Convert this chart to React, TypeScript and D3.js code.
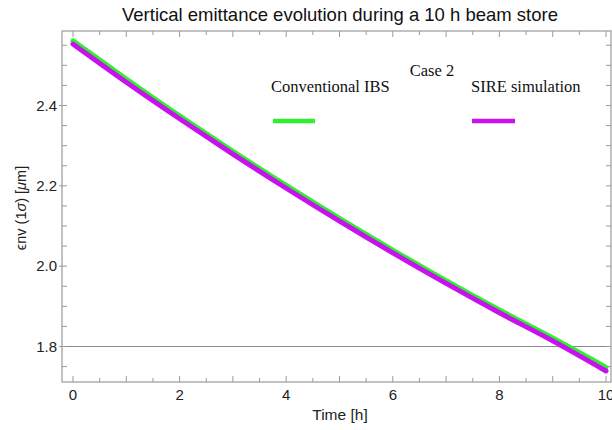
import React from "react";
import * as d3 from "d3";

const times = [0, 1, 2, 3, 4, 5, 6, 7, 8, 9, 10];
const conventionalIBS = [2.561, 2.466, 2.374, 2.286, 2.201, 2.119, 2.040, 1.964, 1.891, 1.821, 1.748];
const sireSimulation = [2.553, 2.458, 2.367, 2.279, 2.194, 2.112, 2.033, 1.957, 1.884, 1.814, 1.739];
const xTickLabels = [0, 2, 4, 6, 8, 10];
const yTickLabels = [1.8, 2.0, 2.2, 2.4];
const seriesNames = ["Conventional IBS", "SIRE simulation"];
const seriesColors = ["#2ef02e", "#c812ee"];
const gridValue = 1.8;

const W = 612;
const H = 430;
const frame = { left: 62, right: 611, top: 31, bottom: 382 };

export default function App() {
  const x = d3.scaleLinear().domain([0, 10]).range([73, 606]);
  const y = d3.scaleLinear().domain([1.8, 2.4]).range([346.5, 105.5]);
  const line = d3
    .line<number>()
    .x((_, i) => x(times[i]))
    .y((d) => y(d))
    .curve(d3.curveMonotoneX);

  const xMinor = d3.range(0, 10.01, 0.5);
  const yMinor = d3.range(1.75, 2.56, 0.05).map((v) => Math.round(v * 100) / 100);
  const axisColor = "#9a9a9a";
  const font = "Liberation Sans, Arial, sans-serif";
  const serif = "Liberation Serif, Times New Roman, serif";

  return (
    <svg width={W} height={H} style={{ position: "absolute", left: 0, top: 0, background: "#fff" }}>
      {/* frame */}
      <rect x={frame.left} y={frame.top} width={frame.right - frame.left} height={frame.bottom - frame.top} fill="none" stroke={axisColor} strokeWidth={1.2} />
      {/* grid line */}
      <line x1={frame.left} x2={frame.right} y1={y(gridValue)} y2={y(gridValue)} stroke="#8a8a8a" strokeWidth={1.2} />
      {/* x ticks */}
      {xMinor.map((t) => {
        const major = Math.abs(t - Math.round(t)) < 1e-6;
        const len = major ? 6 : 4;
        return (
          <g key={"xt" + t}>
            <line x1={x(t)} x2={x(t)} y1={frame.bottom} y2={frame.bottom - len} stroke={axisColor} />
            <line x1={x(t)} x2={x(t)} y1={frame.top} y2={frame.top + len} stroke={axisColor} />
          </g>
        );
      })}
      {xTickLabels.map((t) => (
        <text key={"xl" + t} x={x(t)} y={400} textAnchor="middle" fontFamily={font} fontSize={15} fill="#222">
          {t}
        </text>
      ))}
      {/* y ticks */}
      {yMinor.map((v) => {
        const major = yTickLabels.some((m) => Math.abs(m - v) < 1e-6);
        return (
          <g key={"yt" + v}>
            <line x1={major ? frame.left - 3 : frame.left} x2={frame.left + 5} y1={y(v)} y2={y(v)} stroke={axisColor} />
            <line x1={frame.right} x2={frame.right - 5} y1={y(v)} y2={y(v)} stroke={axisColor} />
          </g>
        );
      })}
      {yTickLabels.map((v) => (
        <text key={"yl" + v} x={57} y={y(v) + 5} textAnchor="end" fontFamily={font} fontSize={15} fill="#222">
          {v.toFixed(1)}
        </text>
      ))}
      {/* series */}
      <path d={line(conventionalIBS) || ""} fill="none" stroke={seriesColors[0]} strokeWidth={5} strokeLinecap="round" />
      <path d={line(sireSimulation) || ""} fill="none" stroke={seriesColors[1]} strokeWidth={5} strokeLinecap="round" />
      {/* title */}
      <text x={340} y={21} textAnchor="middle" fontFamily={font} fontSize={18.5} fill="#111">
        Vertical emittance evolution during a 10 h beam store
      </text>
      {/* axis titles */}
      <text x={340} y={420} textAnchor="middle" fontFamily={font} fontSize={15.5} fill="#222">
        Time [h]
      </text>
      <text transform="translate(26,208) rotate(-90)" textAnchor="middle" fontFamily={font} fontSize={14.5} fill="#222">
        ϵnv (1<tspan fontStyle="italic">σ</tspan>) [<tspan fontStyle="italic">μ</tspan>m]
      </text>
      {/* legend */}
      <text x={432} y={76} textAnchor="middle" fontFamily={serif} fontSize={16.5} fill="#111">
        Case 2
      </text>
      <text x={271} y={92} fontFamily={serif} fontSize={16.5} fill="#111">
        {seriesNames[0]}
      </text>
      <text x={471} y={92} fontFamily={serif} fontSize={16.5} fill="#111">
        {seriesNames[1]}
      </text>
      <line x1={273} x2={315} y1={121} y2={121} stroke={seriesColors[0]} strokeWidth={4.5} />
      <line x1={472} x2={515} y1={121} y2={121} stroke={seriesColors[1]} strokeWidth={4.5} />
    </svg>
  );
}
